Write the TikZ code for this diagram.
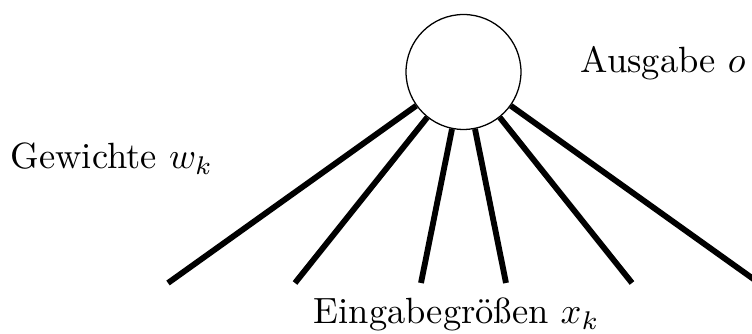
\documentclass[tikz,border=0pt]{standalone}
\begin{document}
\begin{tikzpicture}[x=0.274pt,y=-0.274pt,
  neuron/.style={circle,draw,line width=0.35pt,minimum size=31.5pt,inner sep=0pt},
  weight/.style={line width=1.6pt,line cap=butt},
  lbl/.style={anchor=base west,inner sep=0pt}]
\useasboundingbox (0,0) rectangle (752,334);
\node[neuron] (c) at (463.5,72) {};
\coordinate (e1) at (168,283);
\coordinate (e2) at (295,283);
\coordinate (e3) at (421,283);
\coordinate (e4) at (506,283);
\coordinate (e5) at (632,283);
\coordinate (e6) at (759,283);
\foreach \i in {1,...,6} \draw[weight] (c) -- (e\i);
\node[lbl] (w) at (10,169) {Gewichte $w_k$};
\node[lbl] (o) at (580,73) {Ausgabe $o$};
\node[lbl] (x) at (313,324) {Eingabegrößen $x_k$};
\end{tikzpicture}
\end{document}
